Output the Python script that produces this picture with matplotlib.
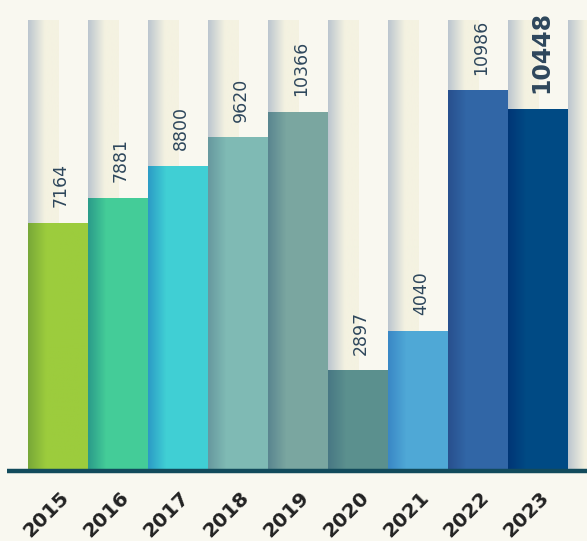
import numpy as np
import matplotlib.pyplot as plt
from matplotlib.colors import to_rgb

years = ['2015', '2016', '2017', '2018', '2019', '2020', '2021', '2022', '2023']
values = [7164, 7881, 8800, 9620, 10366, 2897, 4040, 10986, 10448]
main_colors = ['#9ccc3d', '#44cc98', '#40cfd4', '#7fbab4', '#7aa6a0',
               '#5b908e', '#4fa8d6', '#3166a6', '#004a84']
edge_colors = ['#78a838', '#2b9c8a', '#2c9cc6', '#67999f', '#5a8690',
               '#487884', '#3a88c6', '#28508e', '#003676']

bg = '#f9f8f0'
text_col = '#2e475c'

# pixel <-> data helpers (60 px per bar, 28.89 units per px)
upp = 7164 / 248
col_top = 451 * upp


def gradient(c0, c1, frac, n=60):
    a, b = np.array(to_rgb(c0)), np.array(to_rgb(c1))
    t = np.clip(np.linspace(0, 1, n) / frac, 0, 1)[:, None]
    return (a + (b - a) * t)[None, :, :]


fig = plt.figure(figsize=(5.87, 5.41), dpi=100)
fig.patch.set_facecolor(bg)
ax = fig.add_axes([0, 70 / 541, 1, 471 / 541])
ax.set_facecolor(bg)
ax.axis('off')

# pale columns behind the bars
for i in range(len(years) + 1):
    ax.imshow(gradient('#bcc6cf', '#f4f2e1', 0.55), aspect='auto',
              extent=(i - 0.5, i - 0.5 + 31 / 60, 0, col_top), zorder=1)

# bars
for i, v in enumerate(values):
    ax.imshow(gradient(edge_colors[i], main_colors[i], 0.3), aspect='auto',
              extent=(i - 0.5, i + 0.5, 0, v), zorder=2)
    big = years[i] == '2023'
    ax.text(i + 0.05, v + 16 * upp, f'{v}', rotation=90, ha='center', va='bottom',
            fontsize=17 if big else 12.5, fontweight='bold' if big else 'normal',
            color=text_col, zorder=4)

ax.set_xlim(-0.5 - 28 / 60, -0.5 + 559 / 60)
ax.set_ylim(0, 471 * upp)

# baseline
ax.plot([-0.5 - 21 / 60, 10], [0, 0], color='#124b5c', lw=3.2,
        solid_capstyle='butt', zorder=5, clip_on=False)

for i, y in enumerate(years):
    ax.text(i + 0.24, -17 * upp, y, rotation=45, ha='right', va='top',
            fontsize=14.5, fontweight='bold', color='#222222', clip_on=False)

fig.savefig('out.png', dpi=100, facecolor=bg)
